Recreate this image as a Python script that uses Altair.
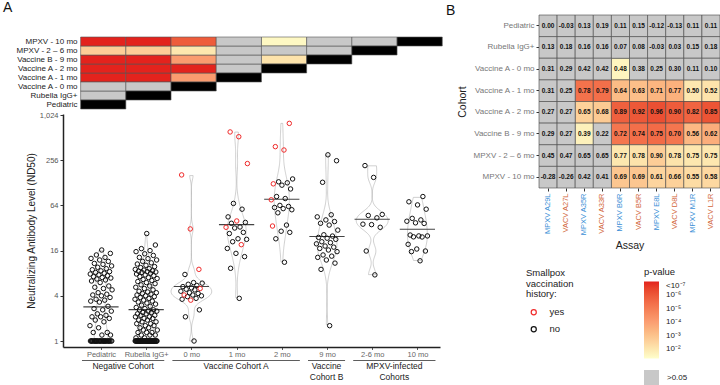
import json
import altair as alt
import pandas as pd

FONT = "Liberation Sans"

# ---------------- Panel A: neutralizing titers (ND50) ----------------
GROUP_LABELS = ["Pediatric", "Rubella IgG+", "0 mo", "1 mo", "2 mo", "9 mo", "2-6 mo", "10 mo"]
COHORT_NAMES = ["Pediatric", "Rubella IgG+", "Vaccine A - 0 mo", "Vaccine A - 1 mo",
                "Vaccine A - 2 mo", "Vaccine B - 9 mo", "MPXV - 2 \u2013 6 mo", "MPXV - 10 mo"]

PEDIATRIC = [1, 1, 1, 1, 1, 1, 1, 1, 1, 1, 1, 1, 1, 1, 1, 1, 1, 1, 1, 1, 1, 1, 1, 1, 1, 1, 1, 1,
             1.2, 1.2, 1.3, 1.3, 1.5, 1.6, 1.8, 1.9, 2.0, 2.1, 2.1, 2.2, 2.3, 2.5, 2.6, 2.7, 2.9,
             3.3, 3.4, 3.5, 3.6, 3.8, 4.0, 4.1, 4.2, 4.4, 4.8, 5.0, 5.2, 5.4, 6.0, 6.3, 6.5, 6.7,
             6.9, 7.0, 7.2, 7.4, 7.6, 7.8, 8.0, 8.2, 8.4, 8.6, 8.9, 9.2, 9.6, 10.0, 10.5, 10.8,
             11.5, 12.0, 12.6, 13.0, 14.0, 14.7, 16.3]
RUBELLA = [1, 1, 1, 1, 1, 1, 1, 1, 1, 1, 1, 1, 1, 1, 1, 1, 1, 1, 1, 1, 1, 1, 1, 1, 1, 1, 1, 1, 1, 1,
           1, 1, 1, 1, 1, 1, 1, 1, 1, 1, 1, 1, 1, 1, 1,
           1.1, 1.1, 1.2, 1.2, 1.2, 1.3, 1.3, 1.3, 1.4, 1.4, 1.5, 1.5, 1.6, 1.6, 1.7, 1.7, 1.8, 1.8,
           1.9, 1.9, 2.0, 2.0, 2.1, 2.1, 2.2, 2.2, 2.3, 2.3, 2.4, 2.4, 2.5, 2.5, 2.6, 2.6, 2.7, 2.8,
           2.9, 3.0, 3.1, 3.2, 3.3, 3.4, 3.5, 3.6, 3.7, 3.8, 3.9, 4.0, 4.1, 4.2, 4.3, 4.4, 4.5, 4.6,
           4.8, 5.0, 5.2, 5.4, 5.6, 5.8, 6.0, 6.2, 6.4, 6.6, 6.8, 7.0, 7.2, 7.4, 7.6, 7.8, 8.0, 8.2,
           8.3, 8.4, 8.5, 8.6, 8.8, 9.0, 9.2, 9.5, 9.8, 10.2, 10.6, 11.0, 11.5, 12.0, 12.5, 13.0,
           13.8, 14.5, 15.5, 16.0, 17.0, 19.0, 27.0]
VACC_A_0MO_NO = [7.7, 6.0, 5.9, 5.7, 5.5, 5.3, 5.1, 4.9, 4.8, 4.6, 4.4, 4.3, 4.1, 4.0, 3.9, 3.7,
                 3.6, 2.6, 2.1, 1.0]
VACC_A_0MO_YES = [163, 31.1, 9.0, 5.0, 4.1, 3.5]
VACC_A_1MO_NO = [68, 57, 45, 38, 37, 33, 32, 28, 27, 23, 22.6, 21, 17.1, 14.7, 13.3, 9.3, 3.7]
VACC_A_1MO_YES = [609, 526, 231, 39.7, 32.7, 19.2]
VACC_A_2MO_NO = [144, 132, 128, 119, 106, 84, 79, 64, 62, 60, 58, 56, 51, 35, 29, 28, 23, 11.2]
VACC_A_2MO_YES = [792, 388, 350, 124, 76, 34]
VACC_B_9MO = [302, 252, 130, 48, 45, 41, 39, 37, 35, 30, 26, 25, 24, 23.4, 22.6, 21, 20.4, 19.7,
              18.4, 17.8, 17.1, 16.3, 15.5, 14.0, 13.5, 13.0, 12.0, 10.9, 9.0, 1.6]
MPXV_2_6MO = [217, 151, 48.5, 47, 43.7, 36, 35.5, 32.7, 15.8, 7.6]
MPXV_10MO = [84, 71.5, 65, 57, 43, 41, 39.4, 37.5, 36.8, 25.8, 25.1, 25.1, 24.4, 24.3, 19.4,
             16.8, 15.8, 15.5, 11.7]

GROUP_VALUES = [
    (PEDIATRIC, []), (RUBELLA, []), (VACC_A_0MO_NO, VACC_A_0MO_YES),
    (VACC_A_1MO_NO, VACC_A_1MO_YES), (VACC_A_2MO_NO, VACC_A_2MO_YES),
    (VACC_B_9MO, []), (MPXV_2_6MO, []), (MPXV_10MO, []),
]

# pairwise comparison p-values between cohorts (log10 p, None = p > 0.05)
PAIR_LOG10P = [
    [],
    [None],
    [None, None],
    [-8, -8, -4.1],
    [-8, -8, -8, None],
    [-8, -8, -4.1, None, -2.1],
    [-2.7, -2.7, -2.0, None, None, None],
    [-8, -8, -5.9, None, -1.5, None, None],
]

COHORT_GROUPS = ["Negative Cohort", "Vaccine Cohort A", "Vaccine\nCohort B", "MPXV-infected\nCohorts"]
COHORT_GROUP_FIRST = [0, 2, 5, 6]
COHORT_GROUP_LAST = [1, 4, 5, 7]

# ---------------- Panel B: correlation of ND50 with binding assays ----------------
ASSAYS = ["MPXV A29L", "VACV A27L", "MPXV A35R", "VACV A33R", "MPXV B6R",
          "VACV B5R", "MPXV E8L", "VACV D8L", "MPXV M1R", "VACV L1R"]
CORR_R = [
    [0.00, -0.03, 0.13, 0.19, 0.11, 0.15, -0.12, -0.13, 0.11, 0.11],
    [0.13, 0.18, 0.16, 0.16, 0.07, 0.08, -0.03, 0.03, 0.15, 0.18],
    [0.31, 0.29, 0.42, 0.42, 0.48, 0.38, 0.25, 0.30, 0.11, 0.10],
    [0.31, 0.25, 0.78, 0.79, 0.64, 0.63, 0.71, 0.77, 0.50, 0.52],
    [0.27, 0.27, 0.65, 0.68, 0.89, 0.92, 0.96, 0.90, 0.82, 0.85],
    [0.29, 0.27, 0.39, 0.22, 0.72, 0.74, 0.75, 0.70, 0.56, 0.62],
    [0.45, 0.47, 0.65, 0.65, 0.77, 0.78, 0.90, 0.78, 0.75, 0.75],
    [-0.28, -0.26, 0.42, 0.41, 0.69, 0.69, 0.61, 0.66, 0.55, 0.58],
]
CORR_LOG10P = [
    [None, None, None, None, None, None, None, None, None, None],
    [None, None, None, None, None, None, None, None, None, None],
    [None, None, None, None, -1.6, None, None, None, None, None],
    [None, None, -5.3, -5.4, -3.2, -3.1, -3.4, -3.5, -2.0, -2.1],
    [None, None, -2.6, -2.8, -5.8, -6.0, -6.2, -5.9, -5.7, -6.1],
    [None, None, -1.7, None, -5.2, -5.4, -5.5, -5.2, -3.3, -3.6],
    [None, None, None, None, -2.0, -2.1, -2.7, -2.1, -2.0, -2.0],
    [None, None, None, None, -2.9, -2.9, -2.5, -2.6, -2.3, -2.4],
]

# ---------------- tables ----------------
rows = []
for i, (no_vals, yes_vals) in enumerate(GROUP_VALUES):
    for v in no_vals:
        rows.append({"idx": i, "nd50": v, "hist": "no"})
    for v in yes_vals:
        rows.append({"idx": i, "nd50": v, "hist": "yes"})
titers = pd.DataFrame(rows)

pair_rows = []
for r, row in enumerate(PAIR_LOG10P):
    for c in range(r + 1):
        if c == r:
            kind, lp = "diag", None
        else:
            lp = row[c]
            kind = "ns" if lp is None else "sig"
        pair_rows.append({"r": r, "c": c, "lp": lp, "kind": kind, "nslab": ">0.05"})
pairs = pd.DataFrame(pair_rows)

corr_rows = []
for i, cohort in enumerate(COHORT_NAMES):
    for j, assay in enumerate(ASSAYS):
        lp = CORR_LOG10P[i][j]
        corr_rows.append({"cohort": cohort, "assay": assay, "r": CORR_R[i][j], "lp": lp,
                          "kind": "ns" if lp is None else "sig", "nslab": ">0.05"})
corr = pd.DataFrame(corr_rows)

grp_rows = []
for name, a, b in zip(COHORT_GROUPS, COHORT_GROUP_FIRST, COHORT_GROUP_LAST):
    grp_rows.append({"name": name, "first": a, "last": b})
groups = pd.DataFrame(grp_rows)

# ---------------- scales ----------------
XA = alt.Scale(domain=[-0.84, 7.5], range=[63, 440], nice=False, zero=False)
YA = alt.Scale(type="log", base=2, domain=[0.832, 1056], range=[347, 114], nice=False)
YT = alt.Scale(domain=[-0.5, 7.5], range=[109, 37], nice=False, zero=False)
XB = alt.Scale(type="band", domain=ASSAYS, range=[539, 720], paddingInner=0, paddingOuter=0)
YB = alt.Scale(type="band", domain=COHORT_NAMES, range=[15, 188], paddingInner=0, paddingOuter=0)
# colour by -log10(p): pale yellow at p = 0.05 up to red at p <= 1e-7
P_SCALE = alt.Scale(domain=[1.3, 2.5, 4, 5.5, 7],
                    range=["#ffffcc", "#fdd49e", "#fb9e72", "#f26b47", "#e3231d"], clamp=True)
NS_SCALE = alt.Scale(domain=[">0.05"], range=["#c8c8c8"])
HIST_SCALE = alt.Scale(domain=["yes", "no"], range=["#f02a2a", "#111111"])

SUP = {2: "\u00b2", 3: "\u00b3", 4: "\u2074", 5: "\u2075", 6: "\u2076", 7: "\u2077"}
p_label_expr = ""
for k in [7, 6, 5, 4, 3]:
    txt = ("<" if k == 7 else "") + "10\u207b" + SUP[k]
    p_label_expr += f"datum.value == {k} ? '{txt}' : "
p_label_expr += "'10\u207b" + SUP[2] + "'"

P_LEGEND = alt.Legend(orient="none", legendX=644, legendY=267, title="p-value",
                      titleFontSize=9.5, titleFontWeight="normal", titleColor="#222",
                      titlePadding=5, direction="vertical", gradientLength=77,
                      gradientThickness=15, gradientStrokeWidth=0, values=[7, 6, 5, 4, 3, 2],
                      labelExpr=p_label_expr, labelFontSize=8, labelColor="#222",
                      labelOffset=7, padding=0)
NS_LEGEND = alt.Legend(orient="none", legendX=644, legendY=370, title=None,
                       symbolType="square", symbolSize=225, symbolStrokeWidth=0,
                       labelFontSize=8, labelColor="#222", labelOffset=8, padding=0)
HIST_LEGEND = alt.Legend(orient="none", legendX=526, legendY=268,
                         title=["Smallpox", "vaccination", "history:"], titleFontSize=9.5,
                         titleFontWeight="normal", titleColor="#222", titleLineHeight=10.5,
                         titlePadding=9, labelFontSize=9.5, labelColor="#222",
                         symbolType="circle", symbolSize=26, symbolStrokeWidth=1.2,
                         symbolOffset=3, labelOffset=11, rowPadding=6, padding=0)

# ---------------- Panel A: comparison triangle ----------------
tri_base = alt.Chart(pairs).transform_calculate(
    x1="datum.c - 0.45", x2="datum.c + 0.55", y1="datum.r - 0.5", y2="datum.r + 0.5",
    nlp="-datum.lp")

tri_sig = tri_base.transform_filter("datum.kind == 'sig'").mark_rect(
    stroke="#555", strokeWidth=0.6).encode(
    x=alt.X("x1:Q", scale=XA, axis=None), x2="x2:Q",
    y=alt.Y("y1:Q", scale=YT, axis=None), y2="y2:Q",
    fill=alt.Fill("nlp:Q", scale=P_SCALE, legend=None))

tri_ns = tri_base.transform_filter("datum.kind == 'ns'").mark_rect(
    stroke="#555", strokeWidth=0.6).encode(
    x=alt.X("x1:Q", scale=XA, axis=None), x2="x2:Q",
    y=alt.Y("y1:Q", scale=YT, axis=None), y2="y2:Q",
    fill=alt.Fill("nslab:N", scale=NS_SCALE, legend=None))

tri_diag = tri_base.transform_filter("datum.kind == 'diag'").mark_rect(
    fill="black", stroke="#555", strokeWidth=0.6).encode(
    x=alt.X("x1:Q", scale=XA, axis=None), x2="x2:Q",
    y=alt.Y("y1:Q", scale=YT, axis=alt.Axis(
        orient="left", offset=-81, values=list(range(8)),
        labelExpr=json.dumps(COHORT_NAMES, ensure_ascii=False) + "[datum.value]",
        ticks=False, domain=False, grid=False, labelFontSize=8, labelColor="#222",
        labelPadding=4, title=None, labelOverlap=False, labelFlush=False)),
    y2="y2:Q")

# ---------------- Panel A: violins, means, points ----------------
violin = alt.Chart(titers).transform_calculate(
    lv="log(datum.nd50) / LN2"
).transform_joinaggregate(
    lo="min(lv)", hi="max(lv)", groupby=["idx"]
).transform_density(
    "lv", groupby=["idx", "lo", "hi"], as_=["lv", "dens"], steps=200
).transform_filter(
    "datum.lv >= datum.lo - 1e-9 && datum.lv <= datum.hi + 1e-9"
).transform_joinaggregate(
    dmax="max(dens)"
).transform_calculate(
    xl="datum.idx - 0.45 * datum.dens / datum.dmax",
    xr="datum.idx + 0.45 * datum.dens / datum.dmax",
    yv="pow(2, datum.lv)"
).mark_area(orient="horizontal", color="white", fill="white", fillOpacity=1, opacity=1,
            stroke="#b0b0b0", strokeWidth=0.6).encode(
    y=alt.Y("yv:Q", scale=YA, axis=None),
    x=alt.X("xl:Q", scale=XA, axis=None), x2="xr:Q",
    detail="idx:N")

means = alt.Chart(titers).transform_calculate(
    lv="log(datum.nd50) / LN2"
).transform_aggregate(
    m="mean(lv)", groupby=["idx"]
).transform_calculate(
    gm="pow(2, datum.m)", a="datum.idx - 0.39", b="datum.idx + 0.39"
).mark_rule(color="#444", strokeWidth=1.1).encode(
    x=alt.X("a:Q", scale=XA, axis=None), x2="b:Q",
    y=alt.Y("gm:Q", scale=YA, axis=None))

points = alt.Chart(titers).transform_window(
    rn="row_number()", groupby=["idx"], sort=[alt.SortField("nd50")]
).transform_calculate(
    xj="datum.idx + ((datum.rn * 0.618034) % 1 - 0.5) * 0.5",
    hv="datum.hist == 'yes' ? 1 : 0"
).mark_point(filled=False, size=20, strokeWidth=1.0, opacity=1).encode(
    x=alt.X("xj:Q", scale=XA, axis=alt.Axis(
        orient="bottom", offset=-38, values=list(range(8)),
        labelExpr=json.dumps(GROUP_LABELS) + "[datum.value]", title=None, grid=False,
        tickSize=2.5, tickColor="#333", tickWidth=0.8, domainColor="#222", domainWidth=1.3,
        labelColor="#666", labelFontSize=7.5, labelPadding=0.5, labelFlush=False,
        labelOverlap=False)),
    y=alt.Y("nd50:Q", scale=YA, axis=alt.Axis(
        orient="left", offset=-63, values=[1, 4, 16, 64, 256, 1024], format=",",
        title="Neutralizing Antibody Level (ND50)", titleFontSize=10,
        titleFontWeight="normal", titleColor="#222", titlePadding=3, labelColor="#555",
        labelFontSize=7.5, tickSize=3, tickColor="#333", domainColor="#222",
        domainWidth=1.5, grid=False, labelFlush=False, labelOverlap=False)),
    stroke=alt.Stroke("hist:N", scale=HIST_SCALE, legend=HIST_LEGEND),
    order=alt.Order("hv:Q"))

grp_base = alt.Chart(groups).transform_calculate(
    a="datum.first - 0.42", b="datum.last + 0.4", m="(datum.first + datum.last) / 2 - 0.01")
grp_lines = grp_base.mark_rule(color="#333", strokeWidth=0.8).encode(
    x=alt.X("a:Q", scale=XA, axis=None), x2="b:Q", y=alt.value(360.5))
grp_text = grp_base.mark_text(fontSize=8.5, color="#222", baseline="top", align="center",
                              lineBreak="\n", lineHeight=11).encode(
    x=alt.X("m:Q", scale=XA, axis=None), y=alt.value(362), text="name:N")

# ---------------- Panel B: heatmap ----------------
b_sig = alt.Chart(corr).transform_filter("datum.kind == 'sig'").transform_calculate(
    nlp="-datum.lp").mark_rect(stroke="#444", strokeWidth=0.6).encode(
    x=alt.X("assay:N", scale=XB, axis=None, sort=ASSAYS),
    y=alt.Y("cohort:N", scale=YB, axis=None, sort=COHORT_NAMES),
    fill=alt.Fill("nlp:Q", scale=P_SCALE, legend=P_LEGEND))

b_ns = alt.Chart(corr).transform_filter("datum.kind == 'ns'").mark_rect(
    stroke="#444", strokeWidth=0.6).encode(
    x=alt.X("assay:N", scale=XB, axis=None, sort=ASSAYS),
    y=alt.Y("cohort:N", scale=YB, axis=None, sort=COHORT_NAMES),
    fill=alt.Fill("nslab:N", scale=NS_SCALE, legend=NS_LEGEND))

b_text = alt.Chart(corr).transform_calculate(
    lbl="replace(format(datum.r, '.2f'), '\u2212', '-')"
).mark_text(fontSize=6.5, fontWeight="bold", color="#111").encode(
    x=alt.X("assay:N", scale=XB, sort=ASSAYS, axis=alt.Axis(
        orient="bottom", offset=-197, title="Assay", titleFontSize=10.5,
        titleFontWeight="normal", titleColor="#222", titlePadding=5, labelAngle=270,
        labelFontSize=7.5, labelPadding=2, tickSize=3, tickColor="#333", domain=False,
        grid=False,
        labelColor={"condition": {"test": "indexof(datum.label, 'MPXV') == 0",
                                  "value": "#3b8fd6"}, "value": "#d2663a"})),
    y=alt.Y("cohort:N", scale=YB, sort=COHORT_NAMES, axis=alt.Axis(
        orient="left", offset=-539, title="Cohort", titleFontSize=10.5,
        titleFontWeight="normal", titleColor="#222", titlePadding=6, labelFontSize=8,
        labelColor="#777", labelPadding=2, tickSize=3, tickColor="#333", domain=False,
        grid=False)),
    text="lbl:N")

# ---------------- panel letters ----------------
letter_a = alt.Chart(pd.DataFrame({"t": ["A"]})).mark_text(
    fontSize=14, align="left", baseline="top", color="#111").encode(
    x=alt.value(3), y=alt.value(1), text="t:N")
letter_b = alt.Chart(pd.DataFrame({"t": ["B"]})).mark_text(
    fontSize=14, align="left", baseline="top", color="#111").encode(
    x=alt.value(446), y=alt.value(4), text="t:N")

chart = alt.layer(
    tri_sig, tri_ns, tri_diag, violin, means, points, grp_lines, grp_text,
    b_sig, b_ns, b_text, letter_a, letter_b
).resolve_scale(
    x="independent", y="independent", fill="independent", stroke="independent"
).properties(
    width=720, height=385, autosize=alt.AutoSizeParams(type="none"), padding=0
).configure(font=FONT).configure_view(stroke=None).configure_axis(
    labelFont=FONT, titleFont=FONT
).configure_legend(labelFont=FONT, titleFont=FONT)

chart.save("out.html", embed_options={"renderer": "svg", "actions": False})
